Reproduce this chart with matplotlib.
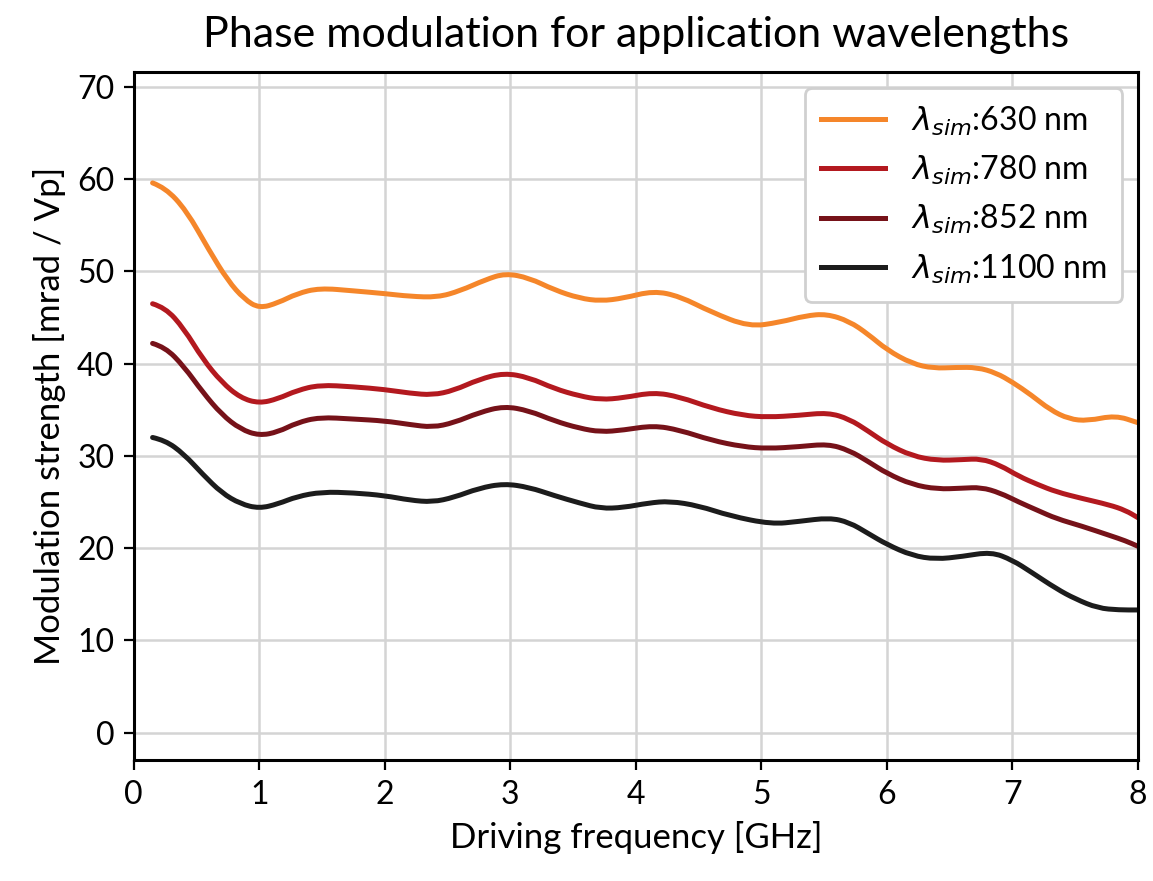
import matplotlib
matplotlib.use("Agg")
import matplotlib.pyplot as plt
from matplotlib.path import Path
from matplotlib.patches import PathPatch

plt.rcParams['font.family'] = ['Lato', 'DejaVu Sans']
plt.rcParams['mathtext.fontset'] = 'dejavusans'

# values
f_630 = [0.15, 0.25, 0.42, 0.6, 0.75, 0.88, 1.0, 1.15, 1.3, 1.48, 1.75, 2.0, 2.2, 2.42, 2.6, 2.8,
         2.96, 3.15, 3.35, 3.55, 3.72, 3.9, 4.14, 4.35, 4.6, 4.9, 5.15, 5.35, 5.52, 5.7, 5.85, 6.0,
         6.2, 6.37, 6.55, 6.72, 6.87, 7.0, 7.15, 7.3, 7.45, 7.6, 7.82, 8.0]
m_630 = [59.6, 59.1, 56.6, 52.3, 49.0, 47.0, 46.0, 46.6, 47.6, 48.2, 47.9, 47.6, 47.3, 47.2, 47.9, 49.1,
         49.8, 49.3, 48.0, 47.1, 46.8, 47.1, 47.9, 47.3, 45.6, 44.0, 44.5, 45.2, 45.4, 44.6, 43.2, 41.5,
         40.0, 39.5, 39.6, 39.6, 39.0, 38.0, 36.6, 35.0, 34.0, 33.8, 34.4, 33.6]

f_780 = [0.15, 0.25, 0.4, 0.55, 0.7, 0.85, 1.0, 1.15, 1.3, 1.48, 1.75, 2.0, 2.2, 2.38, 2.55, 2.75,
         2.95, 3.15, 3.35, 3.55, 3.72, 3.9, 4.14, 4.35, 4.6, 4.85, 5.05, 5.3, 5.53, 5.7, 5.85, 6.0,
         6.2, 6.4, 6.6, 6.75, 6.9, 7.05, 7.2, 7.35, 7.55, 7.77, 7.9, 8.0]
m_780 = [46.5, 46.1, 43.8, 40.5, 38.0, 36.3, 35.7, 36.2, 37.1, 37.7, 37.5, 37.2, 36.8, 36.6, 37.1, 38.3,
         39.0, 38.5, 37.3, 36.5, 36.1, 36.3, 36.9, 36.4, 35.2, 34.4, 34.2, 34.4, 34.7, 34.0, 32.7, 31.3,
         30.0, 29.5, 29.6, 29.7, 29.0, 27.8, 26.9, 26.1, 25.4, 24.7, 24.1, 23.3]

f_852 = f_780
m_852 = [42.2, 41.8, 39.7, 36.9, 34.5, 32.9, 32.2, 32.6, 33.6, 34.2, 34.0, 33.8, 33.4, 33.1, 33.6, 34.7,
         35.4, 34.9, 33.8, 33.0, 32.6, 32.8, 33.3, 32.8, 31.7, 31.0, 30.8, 31.0, 31.3, 30.6, 29.4, 28.1,
         26.9, 26.4, 26.5, 26.6, 26.0, 25.0, 24.1, 23.2, 22.4, 21.4, 20.8, 20.2]

f_1100 = [0.15, 0.25, 0.4, 0.55, 0.7, 0.85, 1.0, 1.15, 1.3, 1.5, 1.75, 2.0, 2.2, 2.38, 2.55, 2.75,
          2.95, 3.15, 3.35, 3.55, 3.72, 3.9, 4.1, 4.27, 4.5, 4.75, 5.08, 5.3, 5.54, 5.7, 5.85, 6.0,
          6.2, 6.39, 6.6, 6.83, 7.0, 7.15, 7.35, 7.5, 7.68, 7.85, 8.0]
m_1100 = [32.0, 31.7, 30.2, 28.0, 26.0, 24.8, 24.3, 24.8, 25.6, 26.1, 26.0, 25.7, 25.2, 25.0, 25.5, 26.5,
          27.0, 26.6, 25.7, 24.9, 24.3, 24.4, 24.9, 25.1, 24.6, 23.5, 22.6, 22.9, 23.3, 22.8, 21.6, 20.4,
          19.2, 18.8, 19.1, 19.6, 18.7, 17.4, 15.6, 14.5, 13.5, 13.3, 13.3]

series = [
    (f_630, m_630, '630', '#f5862a'),
    (f_780, m_780, '780', '#b3191f'),
    (f_852, m_852, '852', '#761219'),
    (f_1100, m_1100, '1100', '#1c1c1c'),
]


def smooth_path(xs, ys):
    # quadratic bezier through the midpoints, the read points act as control points
    pts = list(zip(xs, ys))
    verts = [pts[0]]
    codes = [Path.MOVETO]
    for i in range(1, len(pts) - 1):
        mid = ((pts[i][0] + pts[i + 1][0]) / 2, (pts[i][1] + pts[i + 1][1]) / 2)
        verts += [pts[i], mid]
        codes += [Path.CURVE3, Path.CURVE3]
    verts.append(pts[-1])
    codes.append(Path.LINETO)
    return Path(verts, codes)


fig = plt.figure(figsize=(1153 / 200, 881 / 200), dpi=200)
ax = fig.add_axes([0.116, 0.137, 0.871, 0.781])

for f, m, wl, c in series:
    ax.add_patch(PathPatch(smooth_path(f, m), fill=False, edgecolor=c, lw=1.8,
                           capstyle='round', joinstyle='round'))
    ax.plot([], [], color=c, lw=1.8, label=r'$\lambda_{sim}$:' + wl + ' nm')

ax.set_xlim(0, 8)
ax.set_ylim(-3, 71.6)
ax.set_xticks(range(0, 9))
ax.set_yticks(range(0, 71, 10))
ax.grid(True, color='#d4d4d4', lw=0.9)
ax.set_axisbelow(True)
ax.tick_params(labelsize=11.5)
for s in ax.spines.values():
    s.set_linewidth(1.1)

ax.set_xlabel('Driving frequency [GHz]', fontsize=12.5)
ax.set_ylabel('Modulation strength [mrad / Vp]', fontsize=12.5)
ax.set_title('Phase modulation for application wavelengths', fontsize=15.5, pad=9)

leg = ax.legend(loc='upper right', fontsize=11.5, framealpha=1, edgecolor='#d0d0d0',
                handlelength=2.0, borderpad=0.5, labelspacing=0.5)

fig.savefig('out.png', dpi=200)
